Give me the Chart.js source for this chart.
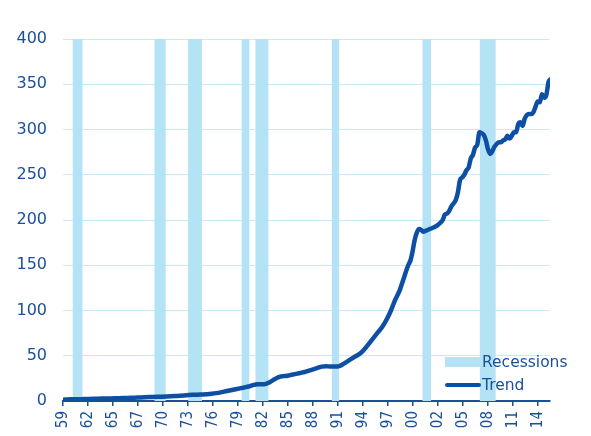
<!DOCTYPE html>
<html>
<head>
<meta charset="utf-8">
<script src="https://cdn.jsdelivr.net/npm/chart.js@4/dist/chart.umd.min.js"></script>
<style>
  html, body { margin: 0; padding: 0; background: #fff; }
  #wrap { position: relative; width: 591px; height: 436px; }
  #legend { position: absolute; left: 445px; top: 350px; font-family: "DejaVu Sans", sans-serif; font-size: 15.5px; color: #1a4f9c; }
  .li { display: flex; align-items: center; height: 23px; }
  .sw { width: 36px; margin-right: 1px; }
</style>
</head>
<body>
<div id="wrap">
  <canvas id="c" width="591" height="436"></canvas>
  <div id="legend"></div>
</div>
<script>
// ---- data ----
const xTickLabels = ['59','62','65','67','70','73','76','79','82','85','88','91','94','97','00','02','05','08','11','14'];

const recessionStart = [1960.1, 1969.6, 1973.5, 1979.7, 1981.3, 1990.15, 2000.65, 2007.3];
const recessionEnd   = [1961.25, 1970.9, 1975.1, 1980.6, 1982.8, 1991.0, 2001.65, 2009.15];

const trendYears = [
  1959, 1960, 1961, 1962, 1963, 1964, 1965, 1966, 1967, 1968, 1969, 1970, 1971, 1972, 1973, 1974,
  1975, 1976, 1977, 1978, 1979, 1980, 1980.5, 1981, 1981.5, 1982, 1982.5, 1983, 1983.5, 1984, 1984.5,
  1985, 1985.5, 1986, 1986.5, 1987, 1987.5, 1988, 1988.5, 1989, 1989.5, 1990, 1990.5, 1991, 1991.5,
  1992, 1992.5, 1993, 1993.5, 1994, 1994.5, 1995, 1995.5, 1996, 1996.5, 1997, 1997.5, 1998, 1998.5,
  1999, 1999.25, 1999.5, 1999.75, 2000, 2000.25, 2000.5, 2000.75, 2001, 2001.5, 2002, 2002.5, 2003,
  2003.25, 2003.5, 2003.75, 2004, 2004.5, 2004.75, 2005, 2005.25, 2005.5, 2005.75, 2006, 2006.25,
  2006.5, 2006.75, 2007, 2007.25, 2007.5, 2007.75, 2008, 2008.25, 2008.5, 2008.75, 2009, 2009.25,
  2009.5, 2009.75, 2010, 2010.25, 2010.5, 2010.75, 2011, 2011.25, 2011.5, 2011.75, 2012, 2012.25,
  2012.5, 2012.75, 2013, 2013.25, 2013.5, 2013.75, 2014, 2014.25, 2014.5, 2014.75, 2015, 2015.25, 2015.43
];
const trendValues = [
  1.5, 1.8, 2.0, 2.3, 2.5, 2.8, 3.0, 3.3, 3.5, 3.9, 4.3, 4.7, 5.0, 5.5, 6.2, 6.8,
  7.2, 7.8, 9.0, 11, 13, 15, 16, 17.5, 18.5, 18.5, 19, 21, 24, 26.5, 27.5,
  28, 29, 30, 31, 32, 33.5, 35, 36.5, 38, 38.5, 38, 38, 38.5, 41,
  44, 47, 50, 53, 58, 64, 70, 76, 82, 90, 100, 112, 122, 136,
  150, 155, 165, 178, 186, 190, 189, 187, 188, 190, 192, 195, 200,
  206, 207, 210, 215, 222, 230, 244, 247, 250, 255, 258, 268,
  272, 280, 283, 297, 296, 294, 288, 278, 273, 276, 281, 284,
  286, 286, 288, 289, 293, 290, 293, 297, 297, 306, 308, 304,
  312, 316, 317, 317, 319, 325, 331, 330, 339, 335, 338, 352, 355
];

const yMin = 0, yMax = 400, yStep = 50;
const xMin = 1959, xMax = 2015.43, xFirstTick = 1959, xLastTick = 2014;

// ---- build datasets ----
const trendPoints = trendYears.map((x, i) => ({ x: x, y: trendValues[i] }));
const recessionPoints = [];
recessionStart.forEach((s, i) => {
  const e = recessionEnd[i];
  recessionPoints.push({ x: s, y: yMin }, { x: s, y: yMax }, { x: e, y: yMax }, { x: e, y: yMin });
});

const textColor = '#1a4f9c';
const lineColor = '#0d4fa3';
const recColor = '#b5e3f6';
const gridColor = '#c8e9f7';

const tickStep = (xLastTick - xFirstTick) / (xTickLabels.length - 1);

const chart = new Chart(document.getElementById('c'), {
  type: 'line',
  data: {
    datasets: [
      {
        label: 'Recessions',
        data: recessionPoints,
        borderWidth: 0,
        borderColor: recColor,
        backgroundColor: recColor,
        fill: 'origin',
        pointRadius: 0,
        tension: 0,
        order: 2
      },
      {
        label: 'Trend',
        data: trendPoints,
        borderColor: lineColor,
        backgroundColor: lineColor,
        borderWidth: 4.5,
        borderCapStyle: 'round',
        borderJoinStyle: 'round',
        pointRadius: 0,
        cubicInterpolationMode: 'monotone',
        fill: false,
        order: 1
      }
    ]
  },
  options: {
    responsive: false,
    animation: false,
    events: [],
    layout: { padding: { top: 39, right: 41, left: 0, bottom: 0 } },
    plugins: { legend: { display: false }, tooltip: { enabled: false } },
    scales: {
      x: {
        type: 'linear',
        min: xMin,
        max: xMax,
        afterBuildTicks: (scale) => {
          scale.ticks = xTickLabels.map((_, i) => ({ value: xFirstTick + i * tickStep }));
        },
        afterFit: (scale) => { scale.height = 35; },
        border: { display: true, color: textColor, width: 2 },
        grid: { drawOnChartArea: false, drawTicks: true, tickLength: 5, color: textColor, lineWidth: 1.5 },
        ticks: {
          autoSkip: false,
          maxRotation: 90,
          minRotation: 90,
          padding: 5,
          color: textColor,
          font: { family: '"DejaVu Sans Condensed", "DejaVu Sans", sans-serif', size: 15 },
          callback: (v, i) => xTickLabels[i]
        }
      },
      y: {
        min: yMin,
        max: yMax,
        afterFit: (scale) => { scale.width = 63; },
        border: { display: false },
        grid: { color: gridColor, lineWidth: 1, drawTicks: false },
        ticks: {
          stepSize: yStep,
          padding: 16,
          color: textColor,
          font: { family: '"DejaVu Sans", sans-serif', size: 16 }
        }
      }
    }
  }
});

// HTML legend built from the chart's datasets
const leg = document.getElementById('legend');
chart.data.datasets.forEach((ds) => {
  const row = document.createElement('div');
  row.className = 'li';
  const sw = document.createElement('span');
  sw.className = 'sw';
  if (ds.label === 'Recessions') {
    sw.style.height = '10px';
    sw.style.background = ds.backgroundColor;
  } else {
    sw.style.height = '4px';
    sw.style.borderRadius = '2px';
    sw.style.background = ds.borderColor;
  }
  const t = document.createElement('span');
  t.textContent = ds.label;
  row.appendChild(sw);
  row.appendChild(t);
  leg.appendChild(row);
});
</script>
</body>
</html>
